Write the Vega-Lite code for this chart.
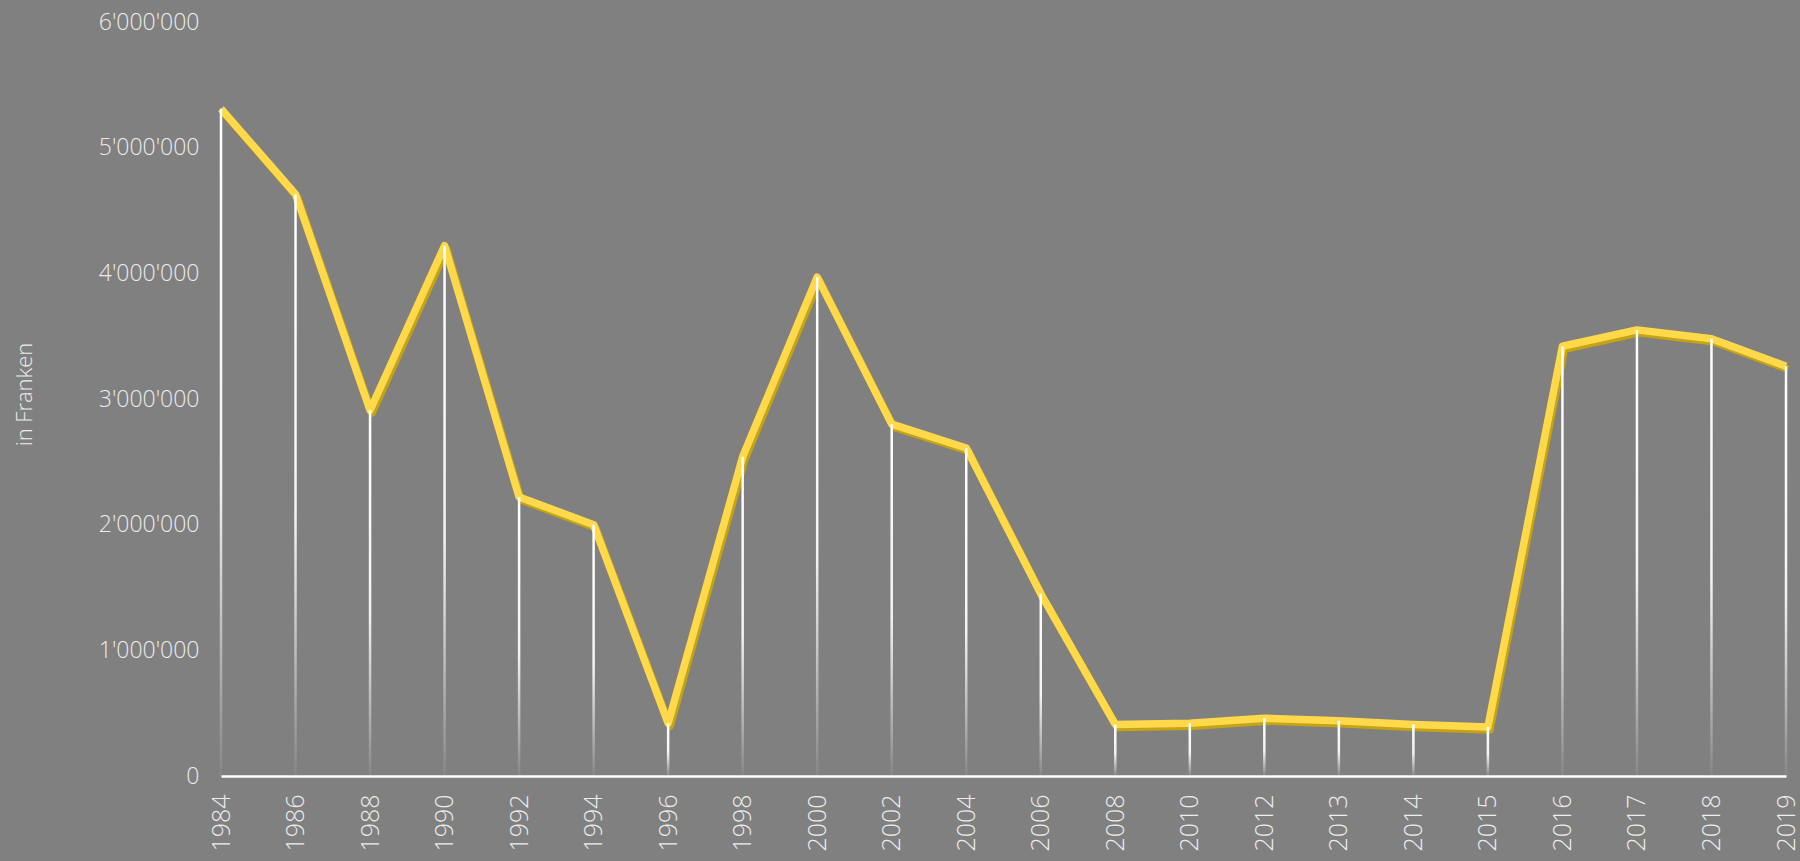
{
  "$schema": "https://vega.github.io/schema/vega-lite/v6.json",
  "width": 1565,
  "height": 754,
  "autosize": {"type": "none"},
  "padding": {"left": 221, "top": 22, "right": 14, "bottom": 85},
  "background": "#808080",
  "config": {
    "view": {"stroke": null},
    "locale": {"number": {"decimal": ".", "thousands": "'", "grouping": [3], "currency": ["", ""]}},
    "axis": {"labelFont": "Open Sans", "labelFontWeight": 300, "labelColor": "#ececec", "titleFont": "Open Sans", "titleFontWeight": 300, "titleColor": "#ececec"}
  },
  "data": {
    "values": [
      {"Jahr": "1984", "Betrag": 5310000},
      {"Jahr": "1986", "Betrag": 4630000},
      {"Jahr": "1988", "Betrag": 2910000},
      {"Jahr": "1990", "Betrag": 4220000},
      {"Jahr": "1992", "Betrag": 2220000},
      {"Jahr": "1994", "Betrag": 2000000},
      {"Jahr": "1996", "Betrag": 420000},
      {"Jahr": "1998", "Betrag": 2540000},
      {"Jahr": "2000", "Betrag": 3970000},
      {"Jahr": "2002", "Betrag": 2800000},
      {"Jahr": "2004", "Betrag": 2610000},
      {"Jahr": "2006", "Betrag": 1450000},
      {"Jahr": "2008", "Betrag": 410000},
      {"Jahr": "2010", "Betrag": 420000},
      {"Jahr": "2012", "Betrag": 460000},
      {"Jahr": "2013", "Betrag": 440000},
      {"Jahr": "2014", "Betrag": 410000},
      {"Jahr": "2015", "Betrag": 390000},
      {"Jahr": "2016", "Betrag": 3420000},
      {"Jahr": "2017", "Betrag": 3550000},
      {"Jahr": "2018", "Betrag": 3480000},
      {"Jahr": "2019", "Betrag": 3260000}
    ]
  },
  "encoding": {
    "x": {
      "field": "Jahr",
      "type": "ordinal",
      "scale": {"type": "point", "padding": 0},
      "axis": {"title": null, "labelAngle": -90, "labelAlign": "right", "labelBaseline": "middle", "labelFontSize": 25, "labelPadding": 18, "ticks": false, "domain": true, "domainColor": "#ffffff", "domainWidth": 2.5}
    },
    "y": {
      "field": "Betrag",
      "type": "quantitative",
      "scale": {"domain": [0, 6000000], "nice": false},
      "axis": {"title": "in Franken", "titleFontSize": 22, "titlePadding": 62, "titleY": 372, "labelFontSize": 23, "labelPadding": 22, "format": ",d", "values": [0, 1000000, 2000000, 3000000, 4000000, 5000000, 6000000], "grid": false, "ticks": false, "domain": false}
    }
  },
  "layer": [
    {
      "mark": {"type": "line", "strokeWidth": 7.5, "color": "#c4a314", "xOffset": 2, "yOffset": 3, "strokeJoin": "round"}
    },
    {
      "mark": {"type": "line", "strokeWidth": 7.5, "color": "#ffd94a", "strokeJoin": "round"}
    },
    {
      "mark": {
        "type": "bar",
        "width": 2.5,
        "color": {
          "gradient": "linear",
          "x1": 0, "y1": 0, "x2": 0, "y2": 1,
          "stops": [
            {"offset": 0, "color": "#ffffff"},
            {"offset": 0.55, "color": "#f4f4f4"},
            {"offset": 1, "color": "rgba(255,255,255,0.05)"}
          ]
        }
      }
    }
  ]
}
